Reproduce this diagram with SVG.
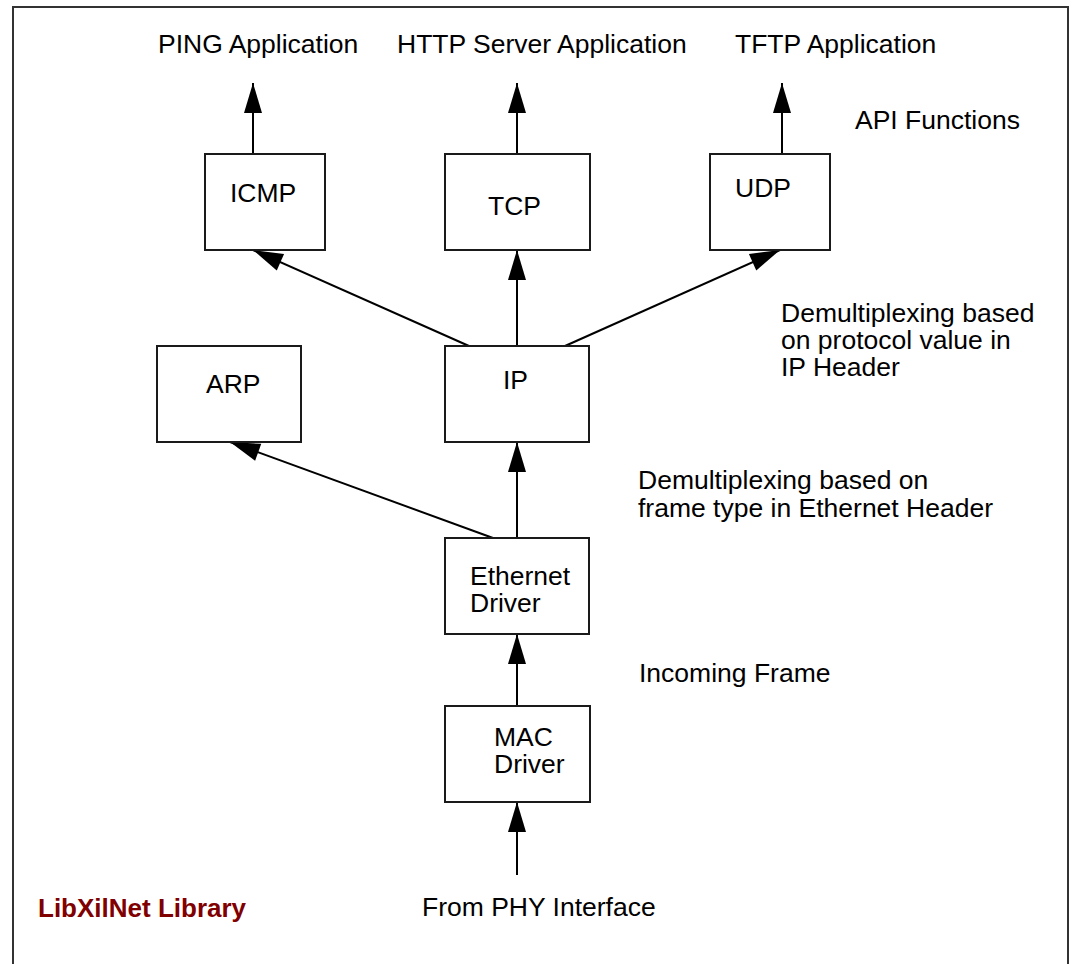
<svg xmlns="http://www.w3.org/2000/svg" width="1073" height="964" viewBox="0 0 1073 964">
<defs>
<marker id="ah" markerUnits="userSpaceOnUse" markerWidth="30" markerHeight="18" refX="30" refY="9" orient="auto" overflow="visible">
<path d="M0,0 L30,9 L0,18 z" fill="#000"/>
</marker>
<style>
.box{fill:#fff;stroke:#1a1a1a;stroke-width:2}
.t{font-family:"Liberation Sans",Arial,sans-serif;font-size:26.5px;fill:#000}
.c{stroke:#000;stroke-width:2;fill:none;marker-end:url(#ah)}
.lib{font-family:"Liberation Sans",Arial,sans-serif;font-size:26px;font-weight:bold;fill:#800000}
</style>
</defs>
<rect x="13" y="7" width="1055" height="1000" fill="#fff" stroke="#333" stroke-width="2"/>

<g id="labels">
<text class="t" x="158" y="53">PING Application</text>
<text class="t" x="397" y="53">HTTP Server Application</text>
<text class="t" x="735" y="53">TFTP Application</text>
<text class="t" x="855" y="129">API Functions</text>
<text class="t" x="781" y="322">Demultiplexing based<tspan x="781" dy="27">on protocol value in</tspan><tspan x="781" dy="27">IP Header</tspan></text>
<text class="t" x="638" y="489">Demultiplexing based on<tspan x="638" dy="28">frame type in Ethernet Header</tspan></text>
<text class="t" x="639" y="682">Incoming Frame</text>
<text class="t" x="422" y="916">From PHY Interface</text>
<text class="lib" x="38" y="917">LibXilNet Library</text>
</g>

<g id="connectors">
<line class="c" x1="253" y1="154" x2="253" y2="83"/>
<line class="c" x1="517" y1="154" x2="517" y2="83"/>
<line class="c" x1="782" y1="154" x2="782" y2="83"/>
<line class="c" x1="469" y1="346" x2="253" y2="250"/>
<line class="c" x1="517" y1="346" x2="517" y2="250"/>
<line class="c" x1="565" y1="346" x2="780" y2="250"/>
<line class="c" x1="493" y1="538" x2="230" y2="442"/>
<line class="c" x1="517" y1="538" x2="517" y2="442"/>
<line class="c" x1="517" y1="706" x2="517" y2="634"/>
<line class="c" x1="517" y1="875" x2="517" y2="802"/>
</g>

<g id="icmp"><rect class="box" x="205" y="154" width="120" height="96"/><text class="t" x="230" y="202">ICMP</text></g>
<g id="tcp"><rect class="box" x="445" y="154" width="145" height="96"/><text class="t" x="488" y="215">TCP</text></g>
<g id="udp"><rect class="box" x="710" y="154" width="120" height="96"/><text class="t" x="735" y="197">UDP</text></g>
<g id="arp"><rect class="box" x="157" y="346" width="144" height="96"/><text class="t" x="206" y="393">ARP</text></g>
<g id="ip"><rect class="box" x="445" y="346" width="144" height="96"/><text class="t" x="503" y="389">IP</text></g>
<g id="ethernet"><rect class="box" x="445" y="538" width="144" height="96"/><text class="t" x="470" y="585">Ethernet<tspan x="470" dy="27">Driver</tspan></text></g>
<g id="mac"><rect class="box" x="445" y="706" width="145" height="96"/><text class="t" x="494" y="746">MAC<tspan x="494" dy="27">Driver</tspan></text></g>
</svg>
